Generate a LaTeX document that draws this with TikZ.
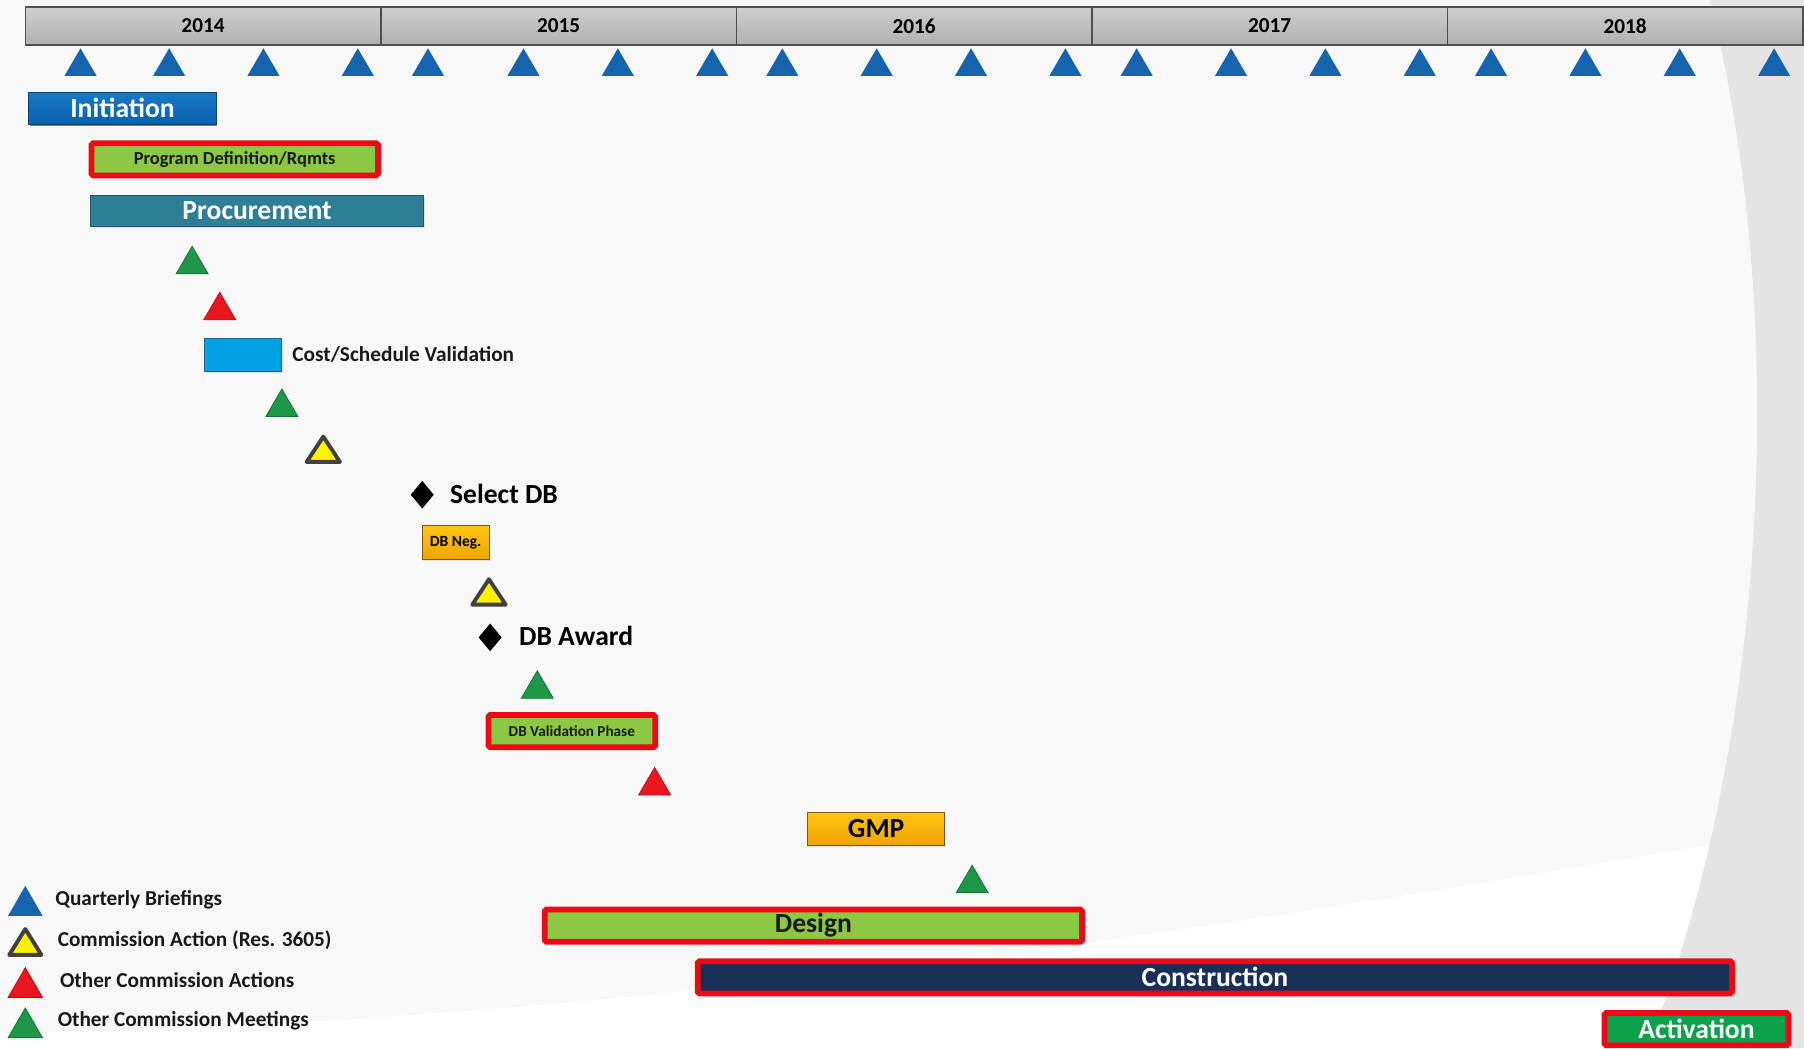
\documentclass[tikz,border=0pt]{standalone}
\usepackage{fontspec}
\setmainfont{Carlito}
\usetikzlibrary{shadows}
\definecolor{bgc}{RGB}{248,248,248}
\definecolor{bandc}{RGB}{228,228,228}
\definecolor{yeartop}{RGB}{206,206,206}
\definecolor{yearbot}{RGB}{176,176,176}
\definecolor{yearD}{RGB}{80,80,80}
\definecolor{qblue}{RGB}{22,100,174}
\definecolor{initT}{RGB}{24,122,200}
\definecolor{initB}{RGB}{10,95,170}
\definecolor{procC}{RGB}{46,126,150}
\definecolor{procD}{RGB}{30,90,110}
\definecolor{csv}{RGB}{0,162,228}
\definecolor{csvD}{RGB}{30,100,160}
\definecolor{mgreen}{RGB}{30,152,72}
\definecolor{mgreenD}{RGB}{20,110,50}
\definecolor{mred}{RGB}{232,22,30}
\definecolor{mredD}{RGB}{170,20,20}
\definecolor{ydark}{RGB}{64,64,64}
\definecolor{lime}{RGB}{140,200,66}
\definecolor{boxred}{RGB}{236,10,20}
\definecolor{orT}{RGB}{255,196,20}
\definecolor{orB}{RGB}{240,164,0}
\definecolor{orD}{RGB}{120,90,20}
\definecolor{navy}{RGB}{24,48,88}
\definecolor{actg}{RGB}{12,162,76}
\definecolor{txtd}{RGB}{25,25,25}
\newcommand\mtri[5]{\path[#5] ({#1-#3},{#2+#4}) -- (#1,#2) -- ({#1+#3},{#2+#4}) -- cycle;}
\newcommand\mdia[2]{\fill[black] ({#1-10},#2) -- (#1,{#2-12}) -- ({#1+10},#2) -- (#1,{#2+12}) -- cycle;}
\tikzset{
  yearbox/.style={rectangle, inner sep=0pt, minimum width=309pt, minimum height=33pt,
    draw=yearD, line width=1.2pt, top color=yeartop, bottom color=yearbot,
    font=\bfseries\fontsize{18.5}{20}\selectfont, text=black},
  bar/.style={rectangle, inner sep=0pt, font=\bfseries\fontsize{24}{26}\selectfont,
    drop shadow={shadow xshift=1pt, shadow yshift=-1.5pt, opacity=0.2}},
  redbar/.style={bar, draw=boxred, line width=5pt, rounded corners=1.5pt, minimum height=28pt},
  smalltxt/.style={font=\bfseries\fontsize{16}{18}\selectfont},
  lbl/.style={anchor=west, inner sep=0pt, font=\bfseries\fontsize{24}{26}\selectfont, text=black},
  midlbl/.style={anchor=west, inner sep=0pt, font=\bfseries\fontsize{18.5}{20}\selectfont, text=txtd},
  qtri/.style={fill=qblue},
  gtri/.style={fill=mgreen, draw=mgreenD, line width=0.6pt},
  rtri/.style={fill=mred, draw=mredD, line width=0.6pt},
  ytri/.style={fill=yellow, draw=ydark, line width=3.4pt, line join=round},
  orbox/.style={bar, draw=orD, line width=0.8pt, top color=orT, bottom color=orB, text=black}
}
\begin{document}
\begin{tikzpicture}[x=1pt,y=-1pt]
\useasboundingbox (0,0) rectangle (1568,911);
% background
\fill[bgc] (0,0) rectangle (1568,911);
\fill[white] (0,898) .. controls (500,890) and (1000,820) .. (1568,720) -- (1568,911) -- (0,911) -- cycle;
\fill[bandc] (1486,0) .. controls (1550,250) and (1545,620) .. (1432,911) -- (1568,911) -- (1568,0) -- cycle;
% year bar
\foreach \i/\yr in {0/2014,1/2015,2/2016,3/2017,4/2018}
  \node[yearbox] (y\yr) at ({176.5+309*\i},22.5) {\yr};
% quarterly briefings
\foreach \x in {70,147,229,311,372,455,537,619,680,762,844,926,988,1070,1152,1234,1296,1378,1460,1542}
  \mtri{\x}{42}{14}{24}{qtri}
% bars
\node[bar, minimum width=163pt, minimum height=28pt, draw=initB!70!black, line width=0.8pt,
  top color=initT, bottom color=initB, text=white] (init) at (106.5,94) {Initiation};
\node[redbar, minimum width=249pt, fill=lime, text=txtd, smalltxt] (progdef) at (204,138.5) {Program Definition/Rqmts};
\node[bar, minimum width=289pt, minimum height=27pt, fill=procC, draw=procD, line width=0.8pt,
  text=white] (proc) at (223.5,183.5) {Procurement};
\mtri{167}{214}{14}{24}{gtri}
\mtri{191}{254}{14}{24}{rtri}
\node[bar, minimum width=67pt, minimum height=29pt, fill=csv, draw=csvD, line width=0.8pt] (csvbox) at (211.5,308.5) {};
\node[midlbl] (csvlbl) at (254,308) {Cost/Schedule Validation};
\mtri{245}{338}{14}{24}{gtri}
\mtri{281}{379.5}{14.5}{22}{ytri}
\mdia{367}{430}
\node[lbl] (seldb) at (391,429) {Select DB};
\node[orbox, minimum width=58pt, minimum height=29pt, font=\bfseries\fontsize{13.5}{15}\selectfont] (dbneg) at (396,471.5) {DB Neg.};
\mtri{425}{503.5}{14.5}{22}{ytri}
\mdia{426}{554}
\node[lbl] (dbaward) at (451,553) {DB Award};
\mtri{467}{583}{14}{24}{gtri}
\node[redbar, minimum width=145pt, fill=lime, text=txtd, font=\bfseries\fontsize{13.2}{15}\selectfont] (dbval) at (497,635.5) {DB Validation Phase};
\mtri{569}{667}{14}{24}{rtri}
\node[orbox, minimum width=119pt, minimum height=29pt] (gmp) at (761.5,720.5) {GMP};
\mtri{845}{752}{14}{24}{gtri}
\node[redbar, minimum width=467pt, fill=lime, text=txtd] (design) at (707,804.5) {Design};
\node[redbar, minimum width=899pt, fill=navy, text=white] (constr) at (1056,849.5) {Construction};
\node[redbar, minimum width=160pt, fill=actg, text=white] (activ) at (1474.5,894.5) {Activation};
% legend
\mtri{22}{770}{15}{26}{qtri}
\mtri{22}{807.5}{14}{22.5}{ytri}
\mtri{22}{841}{15}{26}{rtri}
\mtri{22}{876}{15}{26}{gtri}
\node[midlbl] (lg1) at (48,782) {Quarterly Briefings};
\node[midlbl] (lg2) at (50,817) {Commission Action (Res. 3605)};
\node[midlbl] (lg3) at (52,852) {Other Commission Actions};
\node[midlbl] (lg4) at (50,887) {Other Commission Meetings};
\end{tikzpicture}
\end{document}
